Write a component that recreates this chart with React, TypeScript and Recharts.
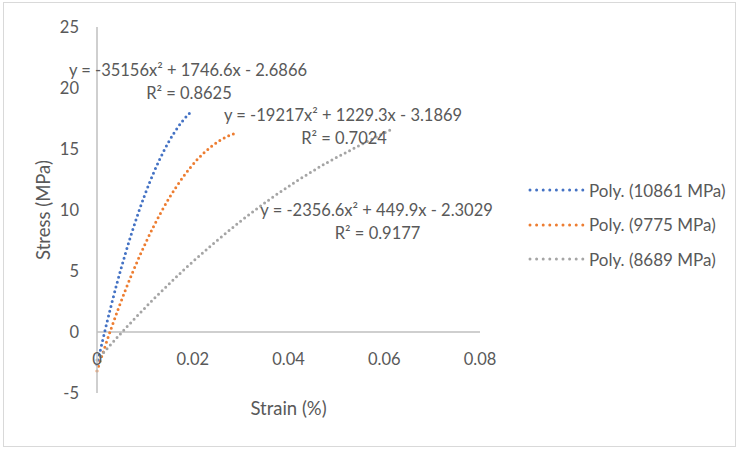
import React from 'react';
import { LineChart, Line, XAxis, YAxis, ReferenceLine, ReferenceDot } from 'recharts';

// values
const strainA = [0, 0.002, 0.004, 0.006, 0.008, 0.01, 0.012, 0.014, 0.016, 0.018, 0.02];
const stressA = [-2.69, 0.66, 3.74, 6.52, 9.03, 11.26, 13.21, 14.87, 16.26, 17.36, 18.18];

const strainB = [0, 0.003, 0.006, 0.009, 0.012, 0.015, 0.018, 0.021, 0.024, 0.027, 0.029];
const stressB = [-3.19, 0.33, 3.5, 6.31, 8.79, 10.93, 12.71, 14.16, 15.24, 15.99, 16.3];

const strainC = [0, 0.006, 0.012, 0.018, 0.024, 0.03, 0.036, 0.042, 0.048, 0.054, 0.062];
const stressC = [-2.3, 0.32, 2.76, 5.04, 7.14, 9.08, 10.85, 12.44, 13.87, 15.12, 16.7];

const seriesNames = ['Poly. (10861 MPa)', 'Poly. (9775 MPa)', 'Poly. (8689 MPa)'];
const equations = [
  'y = -35156x² + 1746.6x - 2.6866',
  'y = -19217x² + 1229.3x - 3.1869',
  'y = -2356.6x² + 449.9x - 2.3029',
];
const rSquared = ['R² = 0.8625', 'R² = 0.7024', 'R² = 0.9177'];

const xTicks = [0, 0.02, 0.04, 0.06, 0.08];
const yTicks = [-5, 0, 5, 10, 15, 20, 25];

// where the equation labels sit, in data units
const labelAt = [
  { x: 0.019, y: 21.5 },
  { x: 0.0514, y: 17.8 },
  { x: 0.0584, y: 10.0 },
];

const colors = ['#4472C4', '#ED7D31', '#A5A5A5'];
const FONT = 'Lato, sans-serif';
const TEXT = '#595959';
const AXIS = '#BFBFBF';

const W = 737;
const H = 449;
const margin = { top: 27, right: 257, bottom: 0, left: 0 };
const X_AXIS_H = 56;
const PLOT_H = H - margin.top - X_AXIS_H;
const ZERO_TO_BOTTOM = (PLOT_H * 5) / 30;

const toPoints = (xs: number[], ys: number[]) => xs.map((x, i) => ({ x, y: ys[i] }));
const series = [toPoints(strainA, stressA), toPoints(strainB, stressB), toPoints(strainC, stressC)];

const XTick = (props: any) => {
  const { x, y, payload } = props;
  return (
    <text x={x} y={y - ZERO_TO_BOTTOM + 25} textAnchor="middle" dominantBaseline="central"
      fill={TEXT} fontSize={16.5} fontFamily={FONT}>
      {String(payload.value)}
    </text>
  );
};

const eqLabel = (i: number) => (props: any) => {
  const vb = props.viewBox || {};
  const cx = vb.x + (vb.width || 0) / 2;
  const cy = vb.y + (vb.height || 0) / 2;
  return (
    <g fontFamily={FONT} fontSize={16.5} fill={TEXT}>
      <text x={cx} y={cy} textAnchor="middle" dominantBaseline="central">{equations[i]}</text>
      <text x={cx + 1} y={cy + 23} textAnchor="middle" dominantBaseline="central">{rSquared[i]}</text>
    </g>
  );
};

export default function App() {
  return (
    <div style={{ position: 'absolute', left: 0, top: 0, width: W, height: H, background: '#fff' }}>
      <div style={{ position: 'absolute', left: 3, top: 2, width: 731, height: 443, border: '1px solid #D9D9D9' }} />
      <LineChart width={W} height={H} data={series[0]} margin={margin}>
        <XAxis dataKey="x" type="number" domain={[0, 0.08]} ticks={xTicks} height={X_AXIS_H}
          axisLine={false} tickLine={false} tickSize={0} tick={<XTick />}
          label={{ value: 'Strain (%)', position: 'insideTop', offset: 9, fill: TEXT, fontSize: 18.5, fontFamily: FONT }} />
        <YAxis type="number" domain={[-5, 25]} ticks={yTicks} width={97}
          axisLine={{ stroke: AXIS, strokeWidth: 1.5 }} tickLine={false} tickSize={0} tickMargin={18}
          tick={{ fill: TEXT, fontSize: 16.5, fontFamily: FONT }}
          label={{ value: 'Stress (MPa)', angle: -90, position: 'insideLeft', offset: 43, fill: TEXT, fontSize: 18.5, fontFamily: FONT, style: { textAnchor: 'middle' } }} />
        <ReferenceLine y={0} stroke={AXIS} strokeWidth={1.5} />
        {series.map((d, i) => (
          <Line key={seriesNames[i]} data={d} dataKey="y" name={seriesNames[i]} type="monotone"
            stroke={colors[i]} strokeWidth={3} strokeDasharray="0 5" strokeLinecap="round"
            dot={false} activeDot={false} isAnimationActive={false} />
        ))}
        {labelAt.map((p, i) => (
          <ReferenceDot key={i} x={p.x} y={p.y} r={0} fill="none" stroke="none" label={eqLabel(i)} />
        ))}
      </LineChart>
      <div style={{ position: 'absolute', left: 527, top: 173, fontFamily: FONT, fontSize: 17, color: TEXT }}>
        {seriesNames.map((n, i) => (
          <div key={n} style={{ display: 'flex', alignItems: 'center', height: 34.5 }}>
            <svg width={58} height={8}>
              <line x1={3} y1={4} x2={56} y2={4} stroke={colors[i]} strokeWidth={3}
                strokeDasharray="0 6.6" strokeLinecap="round" />
            </svg>
            <span style={{ marginLeft: 4 }}>{n}</span>
          </div>
        ))}
      </div>
    </div>
  );
}
